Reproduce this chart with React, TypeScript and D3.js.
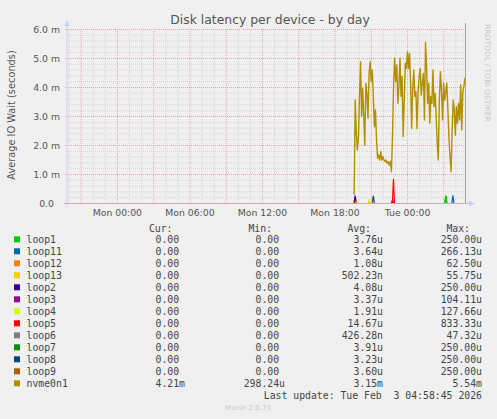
import React from "react";
import * as d3 from "d3";

// time window shown (munin "by day" = 33 hours)
const viewStart = new Date(2026, 1, 1, 19, 50);
const viewEnd = new Date(2026, 1, 3, 4, 50);

const yTickValues = [0, 1, 2, 3, 4, 5, 6]; // milliseconds
const yTickLabels = ["0.0", "1.0 m", "2.0 m", "3.0 m", "4.0 m", "5.0 m", "6.0 m"];

const xTickTimes = [
  new Date(2026, 1, 2, 0, 0),
  new Date(2026, 1, 2, 6, 0),
  new Date(2026, 1, 2, 12, 0),
  new Date(2026, 1, 2, 18, 0),
  new Date(2026, 1, 3, 0, 0),
];
const xTickLabels = ["Mon 00:00", "Mon 06:00", "Mon 12:00", "Mon 18:00", "Tue 00:00"];

// nvme0n1 readings (ms), evenly spaced from nvmeStart to nvmeEnd
const nvmeStart = new Date(2026, 1, 2, 19, 35);
const nvmeEnd = new Date(2026, 1, 3, 4, 50);
const nvmeValues = [
  0.28, 3.55, 2.4, 1.83, 2.29, 3.67, 4.87, 2.98, 3.95, 2.98, 2.0, 4.13, 3.78, 2.92,
  4.47, 4.87, 4.18, 4.59, 3.67, 2.63, 3.21, 2.17, 1.54, 1.66, 1.48, 1.77, 1.48, 1.6,
  1.48, 1.43, 1.48, 1.37, 1.43, 1.31, 1.43, 1.08, 2.29, 4.01, 4.99, 4.18, 4.76, 3.44,
  4.01, 4.99, 3.67, 4.36, 2.29, 3.55, 4.82, 4.64, 5.22, 4.64, 5.16, 4.13, 2.57, 4.01,
  4.59, 3.67, 3.84, 2.57, 3.78, 4.36, 4.64, 3.72, 4.13, 4.47, 2.86, 5.54, 4.7, 3.44,
  4.13, 2.75, 3.67, 3.44, 4.59, 3.32, 3.78, 2.98, 2.06, 1.48, 3.55, 4.53, 3.9, 2.86,
  4.13, 3.55, 3.84, 4.13, 3.21, 2.23, 1.6, 1.08, 2.52, 3.55, 3.21, 2.34, 3.32, 2.75,
  3.44, 2.86, 4.07, 2.52, 3.84, 4.01, 4.3, 4.21,
];

// short spikes of the loop devices (peak in ms)
const loopSpikeNames = ["loop9", "loop2", "loop12", "loop4", "loop13", "loop8", "loop6", "loop3", "loop5", "loop7", "loop1", "loop11"];
const loopSpikeTimes = [
  new Date(2026, 1, 2, 19, 40), new Date(2026, 1, 2, 19, 40), new Date(2026, 1, 2, 19, 45),
  new Date(2026, 1, 2, 20, 50), new Date(2026, 1, 2, 20, 50), new Date(2026, 1, 2, 21, 10),
  new Date(2026, 1, 2, 21, 10), new Date(2026, 1, 2, 22, 45), new Date(2026, 1, 2, 22, 50),
  new Date(2026, 1, 3, 3, 10), new Date(2026, 1, 3, 3, 10), new Date(2026, 1, 3, 3, 45),
];
const loopSpikePeaks = [0.25, 0.25, 0.0625, 0.12766, 0.05575, 0.25, 0.04732, 0.10411, 0.83333, 0.25, 0.25, 0.26613];

// legend
const legendNames = ["loop1", "loop11", "loop12", "loop13", "loop2", "loop3", "loop4", "loop5", "loop6", "loop7", "loop8", "loop9", "nvme0n1"];
const legendColors = ["#00CC00", "#0066B3", "#FF8000", "#FFCC00", "#330099", "#990099", "#CCFF00", "#FF0000", "#808080", "#008F00", "#00487D", "#B35A00", "#B38F00"];
const legendCur = ["0.00 ", "0.00 ", "0.00 ", "0.00 ", "0.00 ", "0.00 ", "0.00 ", "0.00 ", "0.00 ", "0.00 ", "0.00 ", "0.00 ", "4.21m"];
const legendMin = ["0.00 ", "0.00 ", "0.00 ", "0.00 ", "0.00 ", "0.00 ", "0.00 ", "0.00 ", "0.00 ", "0.00 ", "0.00 ", "0.00 ", "298.24u"];
const legendAvg = ["3.76u", "3.64u", "1.08u", "502.23n", "4.08u", "3.37u", "1.91u", "14.67u", "426.28n", "3.91u", "3.23u", "3.60u", "3.15m"];
const legendMax = ["250.00u", "266.13u", "62.50u", "55.75u", "250.00u", "104.11u", "127.66u", "833.33u", "47.32u", "250.00u", "250.00u", "250.00u", "5.54m"];

const W = 497;
const H = 419;
const left = 67;
const right = 466;
const top = 29;
const bottom = 203;

const sans = "'DejaVu Sans', sans-serif";
const mono = "'DejaVu Sans Mono', monospace";
const legendSize = 9.8;

export default function App() {
  const x = d3.scaleTime().domain([viewStart, viewEnd]).range([left, right]);
  const y = d3.scaleLinear().domain([0, 6]).range([bottom, top]);

  const colorOf = (name: string) => legendColors[legendNames.indexOf(name)];

  const nvmeStep = (nvmeEnd.getTime() - nvmeStart.getTime()) / (nvmeValues.length - 1);
  const nvmePoints: [Date, number][] = nvmeValues.map((v, i) => [new Date(nvmeStart.getTime() + i * nvmeStep), v]);
  const line = d3
    .line<[Date, number]>()
    .x((d) => x(d[0]))
    .y((d) => y(d[1]));

  const fiveMin = 5 * 60 * 1000;
  const spikes = loopSpikeNames.map((name, i) => {
    const t = loopSpikeTimes[i].getTime();
    const pts: [Date, number][] = [
      [new Date(t - fiveMin), 0],
      [new Date(t), loopSpikePeaks[i]],
      [new Date(t + fiveMin), 0],
    ];
    return { name, d: line(pts) };
  });

  const hours = d3.timeHour.range(viewStart, viewEnd);
  const minorY = d3.range(1, 30).map((k) => k / 5).filter((v) => Math.abs(v - Math.round(v)) > 1e-6);

  const rowY = (i: number) => 242.8 + i * 12;

  return (
    <div style={{ position: "fixed", left: 0, top: 0 }}>
      <svg width={W} height={H} style={{ display: "block", background: "#f0f0f0" }}>
        <defs>
          <clipPath id="plot">
            <rect x={left} y={top - 2} width={right - left} height={bottom - top + 2} />
          </clipPath>
        </defs>

        {/* title */}
        <text x={270} y={23.5} textAnchor="middle" fontFamily={sans} fontSize={12.4} fill="#555">
          Disk latency per device - by day
        </text>

        {/* minor grid */}
        {hours
          .filter((h) => h.getHours() % 3 !== 0)
          .map((h) => (
            <line key={"vm" + h.getTime()} x1={x(h)} x2={x(h)} y1={top} y2={bottom} stroke="#d6d6d6" strokeDasharray="1,1" />
          ))}
        {minorY.map((v) => (
          <line key={"hm" + v} x1={left} x2={right} y1={y(v) + 0.5} y2={y(v) + 0.5} stroke="#d6d6d6" strokeDasharray="1,1" />
        ))}
        {/* major grid */}
        {hours
          .filter((h) => h.getHours() % 3 === 0)
          .map((h) => (
            <line key={"vM" + h.getTime()} x1={x(h)} x2={x(h)} y1={top} y2={bottom + 2} stroke="#e8a4a4" strokeDasharray="1,1" />
          ))}
        {yTickValues.slice(1).map((v) => (
          <line key={"hM" + v} x1={left - 2} x2={right} y1={y(v) + 0.5} y2={y(v) + 0.5} stroke="#e8a4a4" strokeDasharray="1,1" />
        ))}

        {/* y tick labels */}
        {yTickValues.map((v, i) => (
          <text key={"yl" + v} x={v === 0 ? 54 : 60} y={y(v) + 3.5} textAnchor="end" fontFamily={sans} fontSize={9.3} fill="#555">
            {yTickLabels[i]}
          </text>
        ))}
        {/* x tick labels */}
        {xTickTimes.map((t, i) => (
          <text key={"xl" + i} x={x(t)} y={215.5} textAnchor="middle" fontFamily={sans} fontSize={9.3} fill="#555">
            {xTickLabels[i]}
          </text>
        ))}

        {/* y axis title */}
        <text
          transform="translate(14.5,115) rotate(-90)"
          textAnchor="middle"
          fontFamily={sans}
          fontSize={9.8}
          fill="#555"
        >
          Average IO Wait (seconds)
        </text>

        {/* watermark */}
        <text transform="translate(484.5,24) rotate(90)" fontFamily={sans} fontSize={7.6} fill="#c8c8c8">
          RRDTOOL / TOBI OETIKER
        </text>

        {/* data */}
        <g clipPath="url(#plot)" fill="none">
          {spikes.map((s, i) => (
            <path key={"sp" + i} d={s.d || ""} stroke={colorOf(s.name)} strokeWidth={1.2} />
          ))}
          <path d={line(nvmePoints) || ""} stroke={colorOf("nvme0n1")} strokeWidth={1.4} strokeLinejoin="round" />
        </g>

        {/* zero line / axes */}
        <line x1={left - 3} x2={right + 4} y1={bottom + 0.5} y2={bottom + 0.5} stroke="#d4a8a8" />
        <line x1={left} x2={left} y1={top - 5} y2={bottom + 4} stroke="#c8d0f4" />
        <path d={`M${left - 3},${top - 3} L${left + 3},${top - 3} L${left},${top - 9} Z`} fill="#c8d0f4" />
        <path d={`M${right + 3},${bottom - 2.5} L${right + 3},${bottom + 3.5} L${right + 9},${bottom + 0.5} Z`} fill="#c8d0f4" />
        <line x1={right - 0.5} x2={right - 0.5} y1={top - 6} y2={bottom} stroke="#a0a0a0" />

        {/* legend header */}
        {[
          ["Cur:", 172.5],
          ["Min:", 272],
          ["Avg:", 371],
          ["Max:", 470],
        ].map(([t, px]) => (
          <text key={"h" + t} x={px as number} y={231.8} textAnchor="end" fontFamily={mono} fontSize={legendSize} fill="#444">
            {t}
          </text>
        ))}

        {/* legend rows */}
        {legendNames.map((name, i) => (
          <g key={"lg" + name}>
            <rect x={14} y={rowY(i) - 6.5} width={6} height={6} fill={legendColors[i]} />
            <text x={26.5} y={rowY(i)} fontFamily={mono} fontSize={legendSize} fill="#444">
              {name}
            </text>
            <text x={185} y={rowY(i)} textAnchor="end" fontFamily={mono} fontSize={legendSize} fill="#444" style={{ whiteSpace: "pre" }}>
              {legendCur[i]}
            </text>
            <text x={285} y={rowY(i)} textAnchor="end" fontFamily={mono} fontSize={legendSize} fill="#444" style={{ whiteSpace: "pre" }}>
              {legendMin[i]}
            </text>
            <text x={383} y={rowY(i)} textAnchor="end" fontFamily={mono} fontSize={legendSize} fill="#444" style={{ whiteSpace: "pre" }}>
              {legendAvg[i]}
            </text>
            <text x={482} y={rowY(i)} textAnchor="end" fontFamily={mono} fontSize={legendSize} fill="#444" style={{ whiteSpace: "pre" }}>
              {legendMax[i]}
            </text>
          </g>
        ))}

        <text x={482} y={398.8} textAnchor="end" fontFamily={mono} fontSize={legendSize} fill="#444" style={{ whiteSpace: "pre" }}>
          {"Last update: Tue Feb  3 04:58:45 2026"}
        </text>
        <text x={248} y={410.3} textAnchor="middle" fontFamily={sans} fontSize={7} fill="#c8c8c8">
          Munin 2.0.73
        </text>
      </svg>
    </div>
  );
}
